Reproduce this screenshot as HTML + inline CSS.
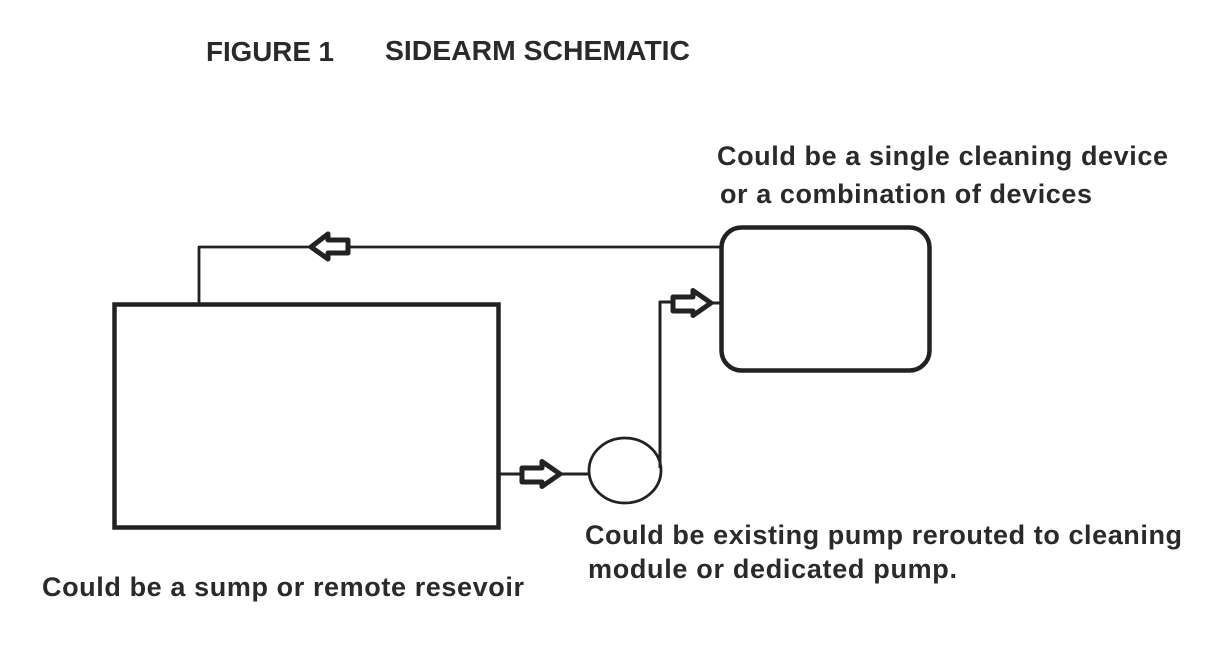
<!DOCTYPE html>
<html>
<head>
<meta charset="utf-8">
<style>
html,body{margin:0;padding:0;background:#fff;}
svg{display:block;}
text{font-family:"Liberation Sans",Arial,sans-serif;font-weight:bold;fill:#2a2a2a;font-size:27px;}
text.t{font-size:28px;}
</style>
</head>
<body>
<svg width="1222" height="645" viewBox="0 0 1222 645" xmlns="http://www.w3.org/2000/svg">
<rect width="1222" height="645" fill="#fff"/>
<g fill="none" stroke="#222" stroke-linejoin="round">
  <rect x="114.5" y="304.5" width="384" height="223" stroke-width="4.5" stroke-linejoin="miter"/>
  <rect x="721.5" y="227.5" width="208" height="143" rx="20" ry="20" stroke-width="4.5"/>
  <ellipse cx="625" cy="470.5" rx="36" ry="32.5" stroke-width="2.8"/>
  <path d="M199 304V247H310M350 247H721" stroke-width="2.8"/>
  <path d="M498 474H522M560 474H589" stroke-width="3"/>
  <path d="M660 468V302H673M711 303H721" stroke-width="3"/>
  <path d="M311 247L328 234V240H348V253H328V259Z" stroke-width="5" fill="#fff"/>
  <path d="M560 474L542 461.5V468H522V482H542V486.5Z" stroke-width="5" fill="#fff"/>
  <path d="M711 303L693 290.5V297H673V311H693V315.5Z" stroke-width="5" fill="#fff"/>
</g>
<text class="t" x="206" y="61" textLength="128" lengthAdjust="spacingAndGlyphs">FIGURE 1</text>
<text class="t" x="385" y="60" textLength="305" lengthAdjust="spacingAndGlyphs">SIDEARM SCHEMATIC</text>
<text x="717" y="165" textLength="451" lengthAdjust="spacing">Could be a single cleaning device</text>
<text x="720" y="203" textLength="372" lengthAdjust="spacing">or a combination of devices</text>
<text x="585" y="544" textLength="597" lengthAdjust="spacing">Could be existing pump rerouted to cleaning</text>
<text x="588" y="578" textLength="369" lengthAdjust="spacing">module or dedicated pump.</text>
<text x="42" y="596" textLength="482" lengthAdjust="spacing">Could be a sump or remote resevoir</text>
</svg>
</body>
</html>
